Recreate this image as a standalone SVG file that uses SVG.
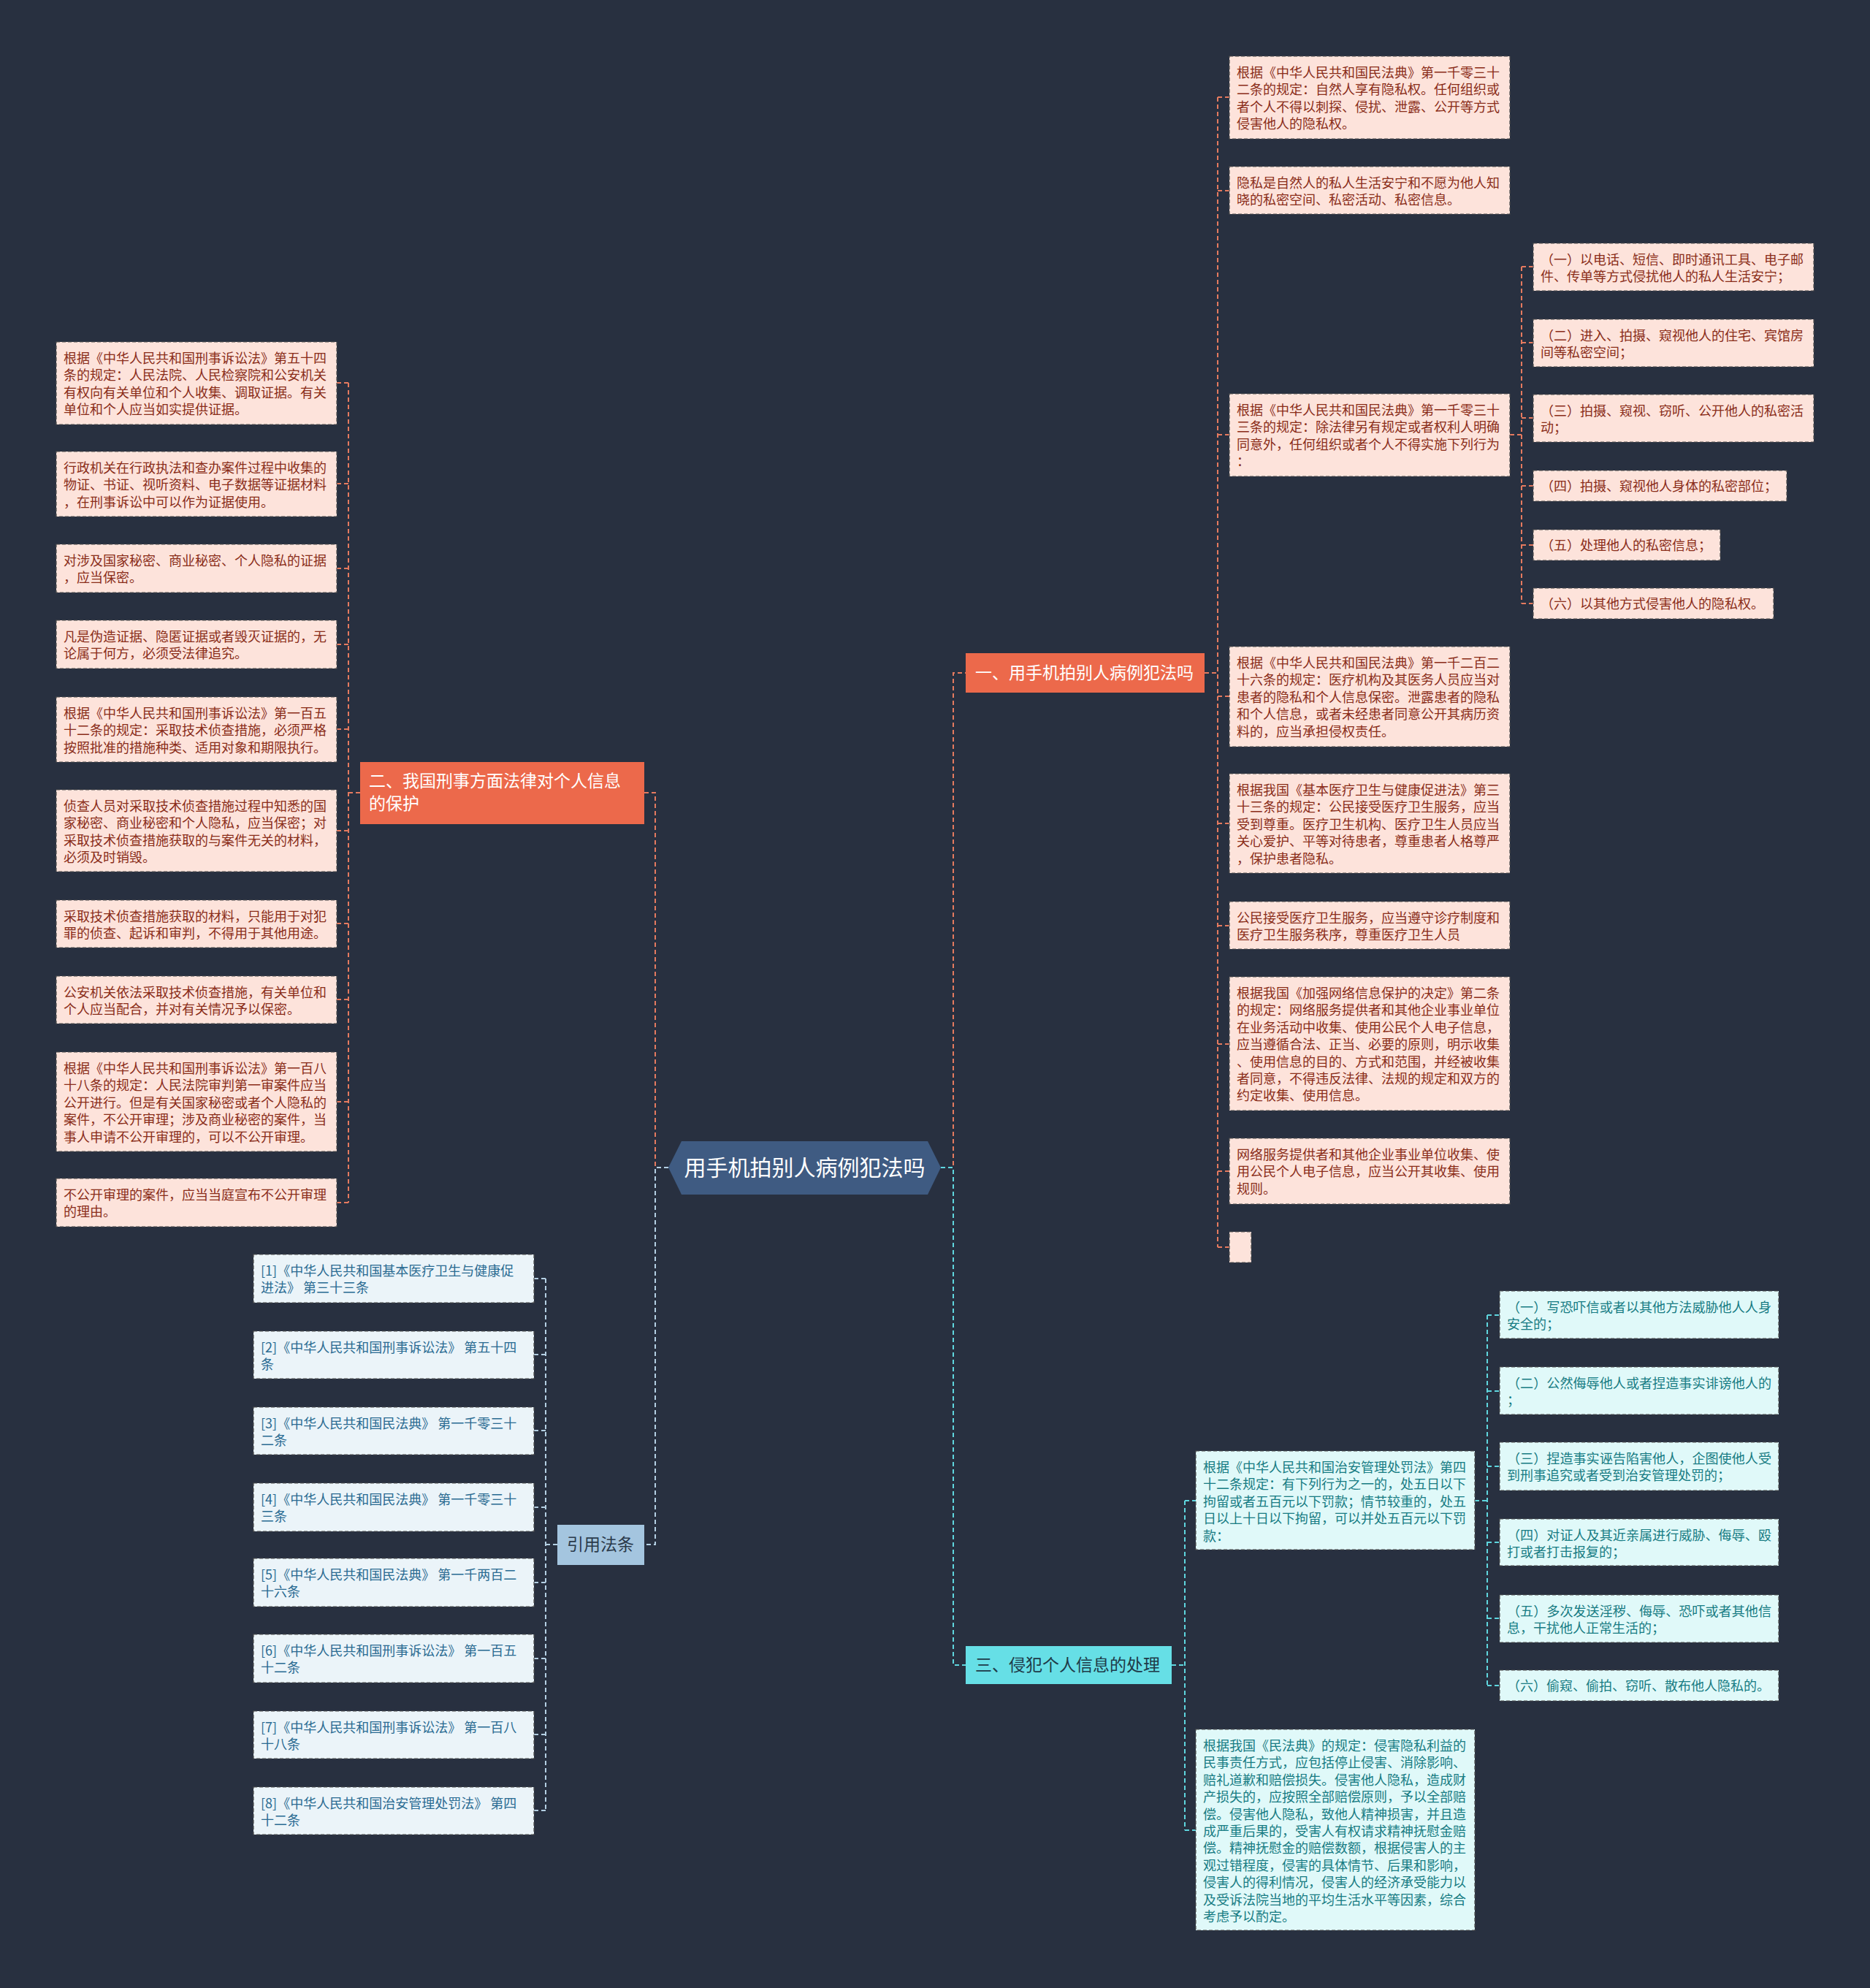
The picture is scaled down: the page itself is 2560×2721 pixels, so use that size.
<svg xmlns="http://www.w3.org/2000/svg" width="2560" height="2721" viewBox="0 0 2560 2721">
<style>
.bg{fill:#283040}
.pk{fill:#fde3db;stroke:#4d4d4d;stroke-width:1.2;stroke-dasharray:5 3}
.cy{fill:#e0f9f9;stroke:#4d4d4d;stroke-width:1.2;stroke-dasharray:5 3}
.bl{fill:#ebf4f9;stroke:#4d4d4d;stroke-width:1.2;stroke-dasharray:5 3}
text{font-family:"Noto Sans CJK SC","Noto Sans",sans-serif}
.pt{font-size:18px;fill:#8a2d19}
.ct{font-size:18px;fill:#177c83}
.bt{font-size:18px;fill:#2a6b92}
.co,.cc,.cb{fill:none;stroke-width:2;stroke-dasharray:6 4}
.co{stroke:#e57a5f}
.cc{stroke:#5fd6de}
.cb{stroke:#b4cfe3}
.mt{font-size:23px}
</style>
<rect class="bg" x="0" y="0" width="2560" height="2721"/>

<g id="connectors">
  <path class="co" d="M1288,1598 H1305 V921 H1322"/>
  <path class="cc" d="M1288,1598 H1305 V2279 H1322"/>
  <path class="co" d="M915,1598 H897 V1085 H882"/>
  <path class="cb" d="M915,1598 H897 V2114 H882"/>
  <!-- branch 一 -->
  <path class="co" d="M1649,921 H1667 M1667,133 V1707 M1667,133 H1683 M1667,261 H1683 M1667,595 H1683 M1667,953 H1683 M1667,1127 H1683 M1667,1267 H1683 M1667,1429 H1683 M1667,1603 H1683 M1667,1707 H1683"/>
  <path class="co" d="M2067,595 H2083 M2083,365 V826 M2083,365 H2099 M2083,469 H2099 M2083,572 H2099 M2083,665 H2099 M2083,746 H2099 M2083,826 H2099"/>
  <!-- branch 二 -->
  <path class="co" d="M493,1085 H477 M477,524 V1646 M477,524 H461 M477,662 H461 M477,778 H461 M477,882 H461 M477,998 H461 M477,1137 H461 M477,1264 H461 M477,1368 H461 M477,1508 H461 M477,1646 H461"/>
  <!-- 引用法条 -->
  <path class="cb" d="M763,2114 H747 M747,1750 V2478 M747,1750 H731 M747,1854 H731 M747,1958 H731 M747,2063 H731 M747,2166 H731 M747,2270 H731 M747,2374 H731 M747,2478 H731"/>
  <!-- branch 三 -->
  <path class="cc" d="M1604,2279 H1622 M1622,2054 V2505 M1622,2054 H1637 M1622,2505 H1637"/>
  <path class="cc" d="M2019,2054 H2036 M2036,1800 V2307 M2036,1800 H2053 M2036,1904 H2053 M2036,2007 H2053 M2036,2111 H2053 M2036,2215 H2053 M2036,2307 H2053"/>
</g>

<g id="center">
  <polygon points="915,1598 933,1562 1270,1562 1288,1598 1270,1635 933,1635" fill="#3f5b82"/>
  <text x="1101.5" y="1609" font-size="30" fill="#ffffff" text-anchor="middle">用手机拍别人病例犯法吗</text>
</g>

<g id="b1">
  <rect x="1322" y="894" width="327" height="54" fill="#ec694b"/>
  <text class="mt" x="1335" y="929" fill="#ffffff">一、用手机拍别人病例犯法吗</text>
</g>
<g id="b2">
  <rect x="493" y="1043" width="389" height="85" fill="#ec694b"/>
  <text class="mt" x="505" y="1077" fill="#ffffff"><tspan x="505">二、我国刑事方面法律对个人信息</tspan><tspan x="505" dy="31">的保护</tspan></text>
</g>
<g id="b3">
  <rect x="1322" y="2253" width="282" height="52" fill="#66dfe6"/>
  <text class="mt" x="1335" y="2287" fill="#1e3a48">三、侵犯个人信息的处理</text>
</g>
<g id="b4">
  <rect x="763" y="2087" width="119" height="55" fill="#a4c5df"/>
  <text class="mt" x="776" y="2122" fill="#2b3a4b">引用法条</text>
</g>

<!-- right orange group -->
<g id="r1"><rect class="pk" x="1683" y="77" width="384" height="113"/>
<text class="pt" x="1693" y="106"><tspan x="1693">根据《中华人民共和国民法典》第一千零三十</tspan><tspan x="1693" dy="23.4">二条的规定：自然人享有隐私权。任何组织或</tspan><tspan x="1693" dy="23.4">者个人不得以刺探、侵扰、泄露、公开等方式</tspan><tspan x="1693" dy="23.4">侵害他人的隐私权。</tspan></text></g>
<g id="r2"><rect class="pk" x="1683" y="228" width="384" height="65"/>
<text class="pt" x="1693" y="257"><tspan x="1693">隐私是自然人的私人生活安宁和不愿为他人知</tspan><tspan x="1693" dy="23.4">晓的私密空间、私密活动、私密信息。</tspan></text></g>
<g id="r3"><rect class="pk" x="1683" y="539" width="384" height="113"/>
<text class="pt" x="1693" y="568"><tspan x="1693">根据《中华人民共和国民法典》第一千零三十</tspan><tspan x="1693" dy="23.4">三条的规定：除法律另有规定或者权利人明确</tspan><tspan x="1693" dy="23.4">同意外，任何组织或者个人不得实施下列行为</tspan><tspan x="1693" dy="23.4">：</tspan></text></g>
<g id="s1"><rect class="pk" x="2099" y="333" width="384" height="65"/>
<text class="pt" x="2109" y="362"><tspan x="2109">（一）以电话、短信、即时通讯工具、电子邮</tspan><tspan x="2109" dy="23.4">件、传单等方式侵扰他人的私人生活安宁；</tspan></text></g>
<g id="s2"><rect class="pk" x="2099" y="437" width="384" height="65"/>
<text class="pt" x="2109" y="466"><tspan x="2109">（二）进入、拍摄、窥视他人的住宅、宾馆房</tspan><tspan x="2109" dy="23.4">间等私密空间；</tspan></text></g>
<g id="s3"><rect class="pk" x="2099" y="540" width="384" height="65"/>
<text class="pt" x="2109" y="569"><tspan x="2109">（三）拍摄、窥视、窃听、公开他人的私密活</tspan><tspan x="2109" dy="23.4">动；</tspan></text></g>
<g id="s4"><rect class="pk" x="2099" y="644" width="347" height="42"/>
<text class="pt" x="2109" y="672">（四）拍摄、窥视他人身体的私密部位；</text></g>
<g id="s5"><rect class="pk" x="2099" y="725" width="256" height="42"/>
<text class="pt" x="2109" y="753">（五）处理他人的私密信息；</text></g>
<g id="s6"><rect class="pk" x="2099" y="805" width="329" height="42"/>
<text class="pt" x="2109" y="833">（六）以其他方式侵害他人的隐私权。</text></g>
<g id="r4"><rect class="pk" x="1683" y="885" width="384" height="137"/>
<text class="pt" x="1693" y="914"><tspan x="1693">根据《中华人民共和国民法典》第一千二百二</tspan><tspan x="1693" dy="23.4">十六条的规定：医疗机构及其医务人员应当对</tspan><tspan x="1693" dy="23.4">患者的隐私和个人信息保密。泄露患者的隐私</tspan><tspan x="1693" dy="23.4">和个人信息，或者未经患者同意公开其病历资</tspan><tspan x="1693" dy="23.4">料的，应当承担侵权责任。</tspan></text></g>
<g id="r5"><rect class="pk" x="1683" y="1059" width="384" height="136"/>
<text class="pt" x="1693" y="1088"><tspan x="1693">根据我国《基本医疗卫生与健康促进法》第三</tspan><tspan x="1693" dy="23.4">十三条的规定：公民接受医疗卫生服务，应当</tspan><tspan x="1693" dy="23.4">受到尊重。医疗卫生机构、医疗卫生人员应当</tspan><tspan x="1693" dy="23.4">关心爱护、平等对待患者，尊重患者人格尊严</tspan><tspan x="1693" dy="23.4">，保护患者隐私。</tspan></text></g>
<g id="r6"><rect class="pk" x="1683" y="1234" width="384" height="65"/>
<text class="pt" x="1693" y="1263"><tspan x="1693">公民接受医疗卫生服务，应当遵守诊疗制度和</tspan><tspan x="1693" dy="23.4">医疗卫生服务秩序，尊重医疗卫生人员</tspan></text></g>
<g id="r7"><rect class="pk" x="1683" y="1337" width="384" height="183"/>
<text class="pt" x="1693" y="1366"><tspan x="1693">根据我国《加强网络信息保护的决定》第二条</tspan><tspan x="1693" dy="23.4">的规定：网络服务提供者和其他企业事业单位</tspan><tspan x="1693" dy="23.4">在业务活动中收集、使用公民个人电子信息，</tspan><tspan x="1693" dy="23.4">应当遵循合法、正当、必要的原则，明示收集</tspan><tspan x="1693" dy="23.4">、使用信息的目的、方式和范围，并经被收集</tspan><tspan x="1693" dy="23.4">者同意，不得违反法律、法规的规定和双方的</tspan><tspan x="1693" dy="23.4">约定收集、使用信息。</tspan></text></g>
<g id="r8"><rect class="pk" x="1683" y="1558" width="384" height="90"/>
<text class="pt" x="1693" y="1587"><tspan x="1693">网络服务提供者和其他企业事业单位收集、使</tspan><tspan x="1693" dy="23.4">用公民个人电子信息，应当公开其收集、使用</tspan><tspan x="1693" dy="23.4">规则。</tspan></text></g>
<g id="r9"><rect class="pk" x="1683" y="1686" width="30" height="42"/></g>

<!-- left orange group -->
<g id="l1"><rect class="pk" x="77" y="468" width="384" height="113"/>
<text class="pt" x="87" y="497"><tspan x="87">根据《中华人民共和国刑事诉讼法》第五十四</tspan><tspan x="87" dy="23.4">条的规定：人民法院、人民检察院和公安机关</tspan><tspan x="87" dy="23.4">有权向有关单位和个人收集、调取证据。有关</tspan><tspan x="87" dy="23.4">单位和个人应当如实提供证据。</tspan></text></g>
<g id="l2"><rect class="pk" x="77" y="618" width="384" height="89"/>
<text class="pt" x="87" y="647"><tspan x="87">行政机关在行政执法和查办案件过程中收集的</tspan><tspan x="87" dy="23.4">物证、书证、视听资料、电子数据等证据材料</tspan><tspan x="87" dy="23.4">，在刑事诉讼中可以作为证据使用。</tspan></text></g>
<g id="l3"><rect class="pk" x="77" y="745" width="384" height="66"/>
<text class="pt" x="87" y="774"><tspan x="87">对涉及国家秘密、商业秘密、个人隐私的证据</tspan><tspan x="87" dy="23.4">，应当保密。</tspan></text></g>
<g id="l4"><rect class="pk" x="77" y="849" width="384" height="66"/>
<text class="pt" x="87" y="878"><tspan x="87">凡是伪造证据、隐匿证据或者毁灭证据的，无</tspan><tspan x="87" dy="23.4">论属于何方，必须受法律追究。</tspan></text></g>
<g id="l5"><rect class="pk" x="77" y="954" width="384" height="89"/>
<text class="pt" x="87" y="983"><tspan x="87">根据《中华人民共和国刑事诉讼法》第一百五</tspan><tspan x="87" dy="23.4">十二条的规定：采取技术侦查措施，必须严格</tspan><tspan x="87" dy="23.4">按照批准的措施种类、适用对象和期限执行。</tspan></text></g>
<g id="l6"><rect class="pk" x="77" y="1081" width="384" height="112"/>
<text class="pt" x="87" y="1110"><tspan x="87">侦查人员对采取技术侦查措施过程中知悉的国</tspan><tspan x="87" dy="23.4">家秘密、商业秘密和个人隐私，应当保密；对</tspan><tspan x="87" dy="23.4">采取技术侦查措施获取的与案件无关的材料，</tspan><tspan x="87" dy="23.4">必须及时销毁。</tspan></text></g>
<g id="l7"><rect class="pk" x="77" y="1232" width="384" height="65"/>
<text class="pt" x="87" y="1261"><tspan x="87">采取技术侦查措施获取的材料，只能用于对犯</tspan><tspan x="87" dy="23.4">罪的侦查、起诉和审判，不得用于其他用途。</tspan></text></g>
<g id="l8"><rect class="pk" x="77" y="1336" width="384" height="65"/>
<text class="pt" x="87" y="1365"><tspan x="87">公安机关依法采取技术侦查措施，有关单位和</tspan><tspan x="87" dy="23.4">个人应当配合，并对有关情况予以保密。</tspan></text></g>
<g id="l9"><rect class="pk" x="77" y="1440" width="384" height="136"/>
<text class="pt" x="87" y="1469"><tspan x="87">根据《中华人民共和国刑事诉讼法》第一百八</tspan><tspan x="87" dy="23.4">十八条的规定：人民法院审判第一审案件应当</tspan><tspan x="87" dy="23.4">公开进行。但是有关国家秘密或者个人隐私的</tspan><tspan x="87" dy="23.4">案件，不公开审理；涉及商业秘密的案件，当</tspan><tspan x="87" dy="23.4">事人申请不公开审理的，可以不公开审理。</tspan></text></g>
<g id="l10"><rect class="pk" x="77" y="1613" width="384" height="66"/>
<text class="pt" x="87" y="1642"><tspan x="87">不公开审理的案件，应当当庭宣布不公开审理</tspan><tspan x="87" dy="23.4">的理由。</tspan></text></g>

<!-- citations -->
<g id="c1"><rect class="bl" x="347" y="1717" width="384" height="66"/>
<text class="bt" x="357" y="1746"><tspan x="357">[1]《中华人民共和国基本医疗卫生与健康促</tspan><tspan x="357" dy="23.4">进法》 第三十三条</tspan></text></g>
<g id="c2"><rect class="bl" x="347" y="1822" width="384" height="65"/>
<text class="bt" x="357" y="1851"><tspan x="357">[2]《中华人民共和国刑事诉讼法》 第五十四</tspan><tspan x="357" dy="23.4">条</tspan></text></g>
<g id="c3"><rect class="bl" x="347" y="1926" width="384" height="65"/>
<text class="bt" x="357" y="1955"><tspan x="357">[3]《中华人民共和国民法典》 第一千零三十</tspan><tspan x="357" dy="23.4">二条</tspan></text></g>
<g id="c4"><rect class="bl" x="347" y="2030" width="384" height="66"/>
<text class="bt" x="357" y="2059"><tspan x="357">[4]《中华人民共和国民法典》 第一千零三十</tspan><tspan x="357" dy="23.4">三条</tspan></text></g>
<g id="c5"><rect class="bl" x="347" y="2133" width="384" height="66"/>
<text class="bt" x="357" y="2162"><tspan x="357">[5]《中华人民共和国民法典》 第一千两百二</tspan><tspan x="357" dy="23.4">十六条</tspan></text></g>
<g id="c6"><rect class="bl" x="347" y="2237" width="384" height="66"/>
<text class="bt" x="357" y="2266"><tspan x="357">[6]《中华人民共和国刑事诉讼法》 第一百五</tspan><tspan x="357" dy="23.4">十二条</tspan></text></g>
<g id="c7"><rect class="bl" x="347" y="2342" width="384" height="65"/>
<text class="bt" x="357" y="2371"><tspan x="357">[7]《中华人民共和国刑事诉讼法》 第一百八</tspan><tspan x="357" dy="23.4">十八条</tspan></text></g>
<g id="c8"><rect class="bl" x="347" y="2446" width="384" height="65"/>
<text class="bt" x="357" y="2475"><tspan x="357">[8]《中华人民共和国治安管理处罚法》 第四</tspan><tspan x="357" dy="23.4">十二条</tspan></text></g>

<!-- cyan group -->
<g id="t1"><rect class="cy" x="1637" y="1986" width="382" height="135"/>
<text class="ct" x="1647" y="2015"><tspan x="1647">根据《中华人民共和国治安管理处罚法》第四</tspan><tspan x="1647" dy="23.4">十二条规定：有下列行为之一的，处五日以下</tspan><tspan x="1647" dy="23.4">拘留或者五百元以下罚款；情节较重的，处五</tspan><tspan x="1647" dy="23.4">日以上十日以下拘留，可以并处五百元以下罚</tspan><tspan x="1647" dy="23.4">款：</tspan></text></g>
<g id="t2"><rect class="cy" x="1637" y="2367" width="382" height="275"/>
<text class="ct" x="1647" y="2396"><tspan x="1647">根据我国《民法典》的规定：侵害隐私利益的</tspan><tspan x="1647" dy="23.4">民事责任方式，应包括停止侵害、消除影响、</tspan><tspan x="1647" dy="23.4">赔礼道歉和赔偿损失。侵害他人隐私，造成财</tspan><tspan x="1647" dy="23.4">产损失的，应按照全部赔偿原则，予以全部赔</tspan><tspan x="1647" dy="23.4">偿。侵害他人隐私，致他人精神损害，并且造</tspan><tspan x="1647" dy="23.4">成严重后果的，受害人有权请求精神抚慰金赔</tspan><tspan x="1647" dy="23.4">偿。精神抚慰金的赔偿数额，根据侵害人的主</tspan><tspan x="1647" dy="23.4">观过错程度，侵害的具体情节、后果和影响，</tspan><tspan x="1647" dy="23.4">侵害人的得利情况，侵害人的经济承受能力以</tspan><tspan x="1647" dy="23.4">及受诉法院当地的平均生活水平等因素，综合</tspan><tspan x="1647" dy="23.4">考虑予以酌定。</tspan></text></g>
<g id="u1"><rect class="cy" x="2053" y="1767" width="382" height="65"/>
<text class="ct" x="2063" y="1796"><tspan x="2063" textLength="362" lengthAdjust="spacingAndGlyphs">（一）写恐吓信或者以其他方法威胁他人人身</tspan><tspan x="2063" dy="23.4">安全的；</tspan></text></g>
<g id="u2"><rect class="cy" x="2053" y="1871" width="382" height="65"/>
<text class="ct" x="2063" y="1900"><tspan x="2063" textLength="362" lengthAdjust="spacingAndGlyphs">（二）公然侮辱他人或者捏造事实诽谤他人的</tspan><tspan x="2063" dy="23.4">；</tspan></text></g>
<g id="u3"><rect class="cy" x="2053" y="1974" width="382" height="66"/>
<text class="ct" x="2063" y="2003"><tspan x="2063" textLength="362" lengthAdjust="spacingAndGlyphs">（三）捏造事实诬告陷害他人，企图使他人受</tspan><tspan x="2063" dy="23.4">到刑事追究或者受到治安管理处罚的；</tspan></text></g>
<g id="u4"><rect class="cy" x="2053" y="2079" width="382" height="64"/>
<text class="ct" x="2063" y="2108"><tspan x="2063" textLength="362" lengthAdjust="spacingAndGlyphs">（四）对证人及其近亲属进行威胁、侮辱、殴</tspan><tspan x="2063" dy="23.4">打或者打击报复的；</tspan></text></g>
<g id="u5"><rect class="cy" x="2053" y="2183" width="382" height="65"/>
<text class="ct" x="2063" y="2212"><tspan x="2063" textLength="362" lengthAdjust="spacingAndGlyphs">（五）多次发送淫秽、侮辱、恐吓或者其他信</tspan><tspan x="2063" dy="23.4">息，干扰他人正常生活的；</tspan></text></g>
<g id="u6"><rect class="cy" x="2053" y="2286" width="382" height="42"/>
<text class="ct" x="2063" y="2314">（六）偷窥、偷拍、窃听、散布他人隐私的。</text></g>
</svg>
